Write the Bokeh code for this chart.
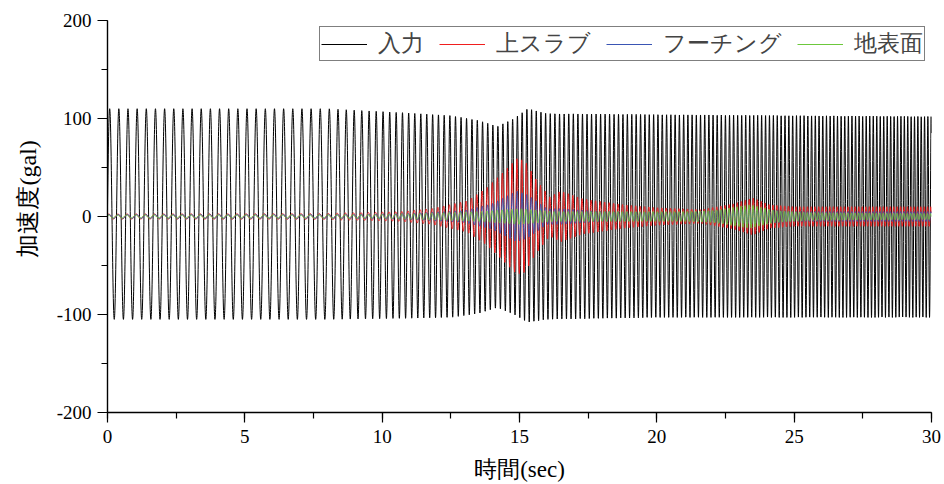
import numpy as np
from bokeh.plotting import figure
from bokeh.models import SingleIntervalTicker, Range1d, Title
from bokeh.embed import file_html
from bokeh.resources import INLINE

# ---- values ----
# sweep frequency of the input (Hz) at time knots (s)
freq_t = [0, 7.9, 10.7, 13.0, 15.0, 18.0, 22.0, 26.0, 30.0]
freq_hz = [3.0, 3.0, 4.4, 5.0, 5.8, 6.1, 6.6, 7.4, 8.3]

# input (入力) upper / lower envelope (gal)
inp_t = [0, 8.0, 10.7, 12.5, 13.5, 14.2, 14.8, 15.3, 16.0, 20.0, 25.0, 30.0]
inp_up = [110, 110, 106, 103, 98, 92, 100, 110, 105, 104, 103, 102]
inp_lo = [-105, -105, -104, -103, -99, -93, -100, -108, -105, -103, -103, -103]

# upper slab (上スラブ) envelope (gal)
red_t = [0, 8.0, 9.5, 10.7, 11.8, 13.1, 13.8, 14.4, 14.9, 15.2, 15.6, 16.1, 16.5,
         17.3, 18.8, 20.0, 21.6, 22.8, 23.5, 24.1, 25.0, 27.0, 30.0]
red_a = [2.5, 3, 4, 5, 8, 16, 29, 45, 59, 57, 38, 20, 26,
         18, 12, 9, 7, 13, 19, 12, 10, 10, 10]

# footing (フーチング) envelope (gal)
blu_t = [0, 9.0, 11.0, 13.0, 14.0, 14.9, 15.3, 16.0, 16.5, 18.0, 21.0, 23.4, 25.0, 30.0]
blu_a = [2, 2, 3, 6, 13, 26, 22, 8, 8, 5, 4, 8, 5, 5]

# ground surface (地表面) envelope (gal)
grn_t = [0, 9.0, 11.0, 13.5, 15.0, 16.3, 18.0, 21.0, 22.0, 23.4, 24.3, 25.5, 30.0]
grn_a = [1.5, 1.5, 2.5, 5, 8, 5, 5, 5, 6, 12, 6, 4, 3]

y_ticks_step = 100
x_ticks_step = 5
y_label_overrides = {-100: "-100", -200: "-200"}
y_title = "加速度(gal)"
x_title = "時間(sec)"

# ---- build the traces ----
dt = 0.004
t = np.arange(0, 30 + dt, dt)
f = np.interp(t, freq_t, freq_hz)
phase = 2 * np.pi * np.cumsum(f) * dt
carrier = np.sin(phase)

up = np.interp(t, inp_t, inp_up)
lo = np.interp(t, inp_t, inp_lo)
y_in = (up + lo) / 2 + (up - lo) / 2 * carrier
y_red = np.interp(t, red_t, red_a) * np.sin(phase + 0.6)
y_blu = np.interp(t, blu_t, blu_a) * np.sin(phase + 0.3)
y_grn = np.interp(t, grn_t, grn_a) * np.sin(phase + 1.0)

SERIF = "Liberation Serif"

p = figure(width=944, height=484, x_range=Range1d(0, 30), y_range=Range1d(-200, 200),
           output_backend="svg", toolbar_location=None,
           min_border_left=107, min_border_right=13, min_border_top=20, min_border_bottom=72)
p.outline_line_color = None
p.xgrid.visible = False
p.ygrid.visible = False

p.line(t, y_in, line_color="black", line_width=1, legend_label="入力")
p.line(t, y_red, line_color="#f01e1e", line_width=1, legend_label="上スラブ")
p.line(t, y_blu, line_color="#3a55b4", line_width=1, legend_label="フーチング")
p.line(t, y_grn, line_color="#6cc83c", line_width=1, legend_label="地表面")

p.xaxis.ticker = SingleIntervalTicker(interval=x_ticks_step, num_minor_ticks=2)
p.yaxis.ticker = SingleIntervalTicker(interval=y_ticks_step, num_minor_ticks=2)
p.yaxis.major_label_overrides = y_label_overrides
for ax in (p.xaxis, p.yaxis):
    ax.axis_line_color = "black"
    ax.axis_line_width = 1.4
    ax.major_tick_line_color = "black"
    ax.minor_tick_line_color = "black"
    ax.major_tick_line_width = 1.2
    ax.minor_tick_line_width = 1.2
    ax.major_tick_out = 10
    ax.major_tick_in = 0
    ax.minor_tick_out = 6
    ax.minor_tick_in = 0
    ax.major_label_text_font = SERIF
    ax.major_label_text_font_size = "19px"
    ax.major_label_text_color = "black"
    ax.axis_label_text_font = SERIF
    ax.axis_label_text_font_size = "23px"
    ax.axis_label_text_font_style = "normal"
    ax.axis_label_text_color = "black"
p.xaxis.axis_label = x_title
p.xaxis.major_label_standoff = 7
p.xaxis.axis_label_standoff = 11
p.yaxis.major_label_standoff = 6

# y title as a side title so it can sit off-centre as in the original
ytitle = Title(text=y_title, align="left", offset=155, standoff=25,
               text_font=SERIF, text_font_size="24px", text_font_style="normal",
               text_color="black")
p.add_layout(ytitle, "left")

lg = p.legend[0]
lg.orientation = "horizontal"
lg.location = "top_right"
lg.border_line_color = "black"
lg.border_line_width = 1
lg.background_fill_alpha = 1
lg.label_text_font = SERIF
lg.label_text_font_size = "22.5px"
lg.label_height = 22
lg.glyph_width = 46
lg.glyph_height = 20
lg.label_standoff = 11
lg.spacing = 15
lg.padding = 1
lg.margin = 6

open("out.html", "w").write(file_html(p, INLINE))
